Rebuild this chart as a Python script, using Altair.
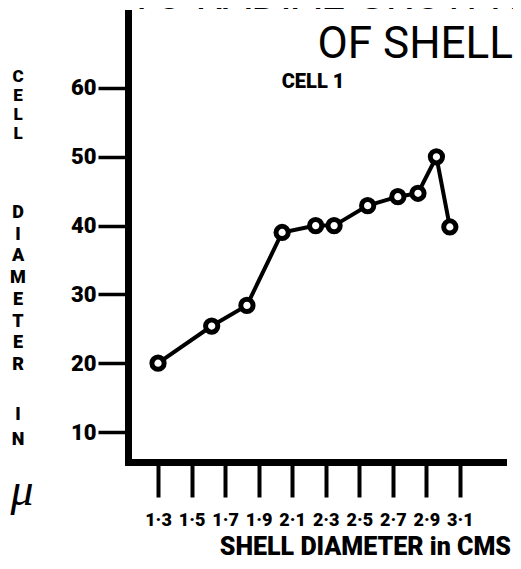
import altair as alt
import pandas as pd

# Data
shell_diameter = [1.3, 1.62, 1.83, 2.04, 2.24, 2.35, 2.55, 2.73, 2.85, 2.96, 3.04]
cell_diameter = [20.0, 25.4, 28.4, 39.0, 40.0, 40.0, 42.9, 44.2, 44.7, 50.0, 39.8]

x_ticks = [1.3, 1.5, 1.7, 1.9, 2.1, 2.3, 2.5, 2.7, 2.9, 3.1]
x_tick_labels = ["1·3", "1·5", "1·7", "1·9", "2·1", "2·3", "2·5", "2·7", "2·9", "3·1"]
y_ticks = [10, 20, 30, 40, 50, 60]

title_cut = "TO RADIAL GROWTH"
title_line2 = "OF SHELL"
panel_label = "CELL 1"
x_title = "SHELL DIAMETER in CMS"
y_title_groups = [["C", "E", "L", "L"], ["D", "I", "A", "M", "E", "T", "E", "R"], ["I", "N"], ["μ"]]

df = pd.DataFrame({"shell": shell_diameter, "cell": cell_diameter})

FONT = "Roboto"
W, H = 375, 449

label_map = "{" + ",".join(f"'{v:.1f}':'{l}'" for v, l in zip(x_ticks, x_tick_labels)) + "}"

x_enc = alt.X(
    "shell:Q",
    scale=alt.Scale(domain=[1.121, 3.357], nice=False, zero=False),
    axis=alt.Axis(
        values=x_ticks, title=None, grid=False,
        labelExpr=f"{label_map}[format(datum.value, '.1f')]",
        domainColor="black", domainWidth=7, domainCap="square",
        tickColor="black", tickWidth=4, tickSize=35,
        labelFont=FONT, labelFontWeight=900, labelFontSize=18,
        labelColor="black", labelPadding=14,
    ),
)
y_enc = alt.Y(
    "cell:Q",
    scale=alt.Scale(domain=[5.64, 70.9], nice=False, zero=False),
    axis=alt.Axis(
        values=y_ticks, title=None, grid=False,
        domainColor="black", domainWidth=7, domainCap="square",
        tickColor="black", tickWidth=3.5, tickSize=30,
        labelFont=FONT, labelFontWeight=900, labelFontSize=22,
        labelColor="black", labelPadding=2,
    ),
)

base = alt.Chart(df)
line = base.mark_line(color="black", strokeWidth=4).encode(x=x_enc, y=y_enc)
pts = base.mark_point(
    filled=True, fill="white", stroke="black", strokeWidth=5, size=150, opacity=1
).encode(x=x_enc, y=y_enc)

one = alt.Data(values=[{}])

def txt(text, x, y, size, weight="normal", align="center", baseline="alphabetic",
        font=FONT, line_height=None, style="normal"):
    kw = dict(font=font, fontSize=size, fontWeight=weight, align=align,
              baseline=baseline, color="black", fontStyle=style)
    if line_height is not None:
        kw["lineHeight"] = line_height
    return alt.Chart(one).mark_text(**kw).encode(
        x=alt.value(x), y=alt.value(y), text=alt.value(text)
    )

texts = [
    txt(title_cut, 412, -4, 44, align="right"),
    txt(title_line2, 385, 45, 44, align="right"),
    txt(panel_label, 185, 75, 20, weight=900),
    txt(x_title, 383, 542, 25, weight=900, align="right"),
    txt(y_title_groups[0], -110, 56, 17, weight=900, baseline="top", line_height=19),
    txt(y_title_groups[1], -110, 191, 18, weight=900, baseline="top", line_height=21.7),
    txt(y_title_groups[2], -110, 393, 18, weight=900, baseline="top", line_height=25),
    txt(y_title_groups[3], -106, 492, 46, font="Liberation Serif", style="italic"),
]

chart = alt.layer(line, pts, *texts).properties(
    width=W, height=H,
    autosize=alt.AutoSizeParams(type="none"),
    padding={"left": 120, "top": 5, "right": 10, "bottom": 99},
    background="white",
).configure_view(stroke=None)

chart.save("out.html", embed_options={"renderer": "svg", "actions": False})
